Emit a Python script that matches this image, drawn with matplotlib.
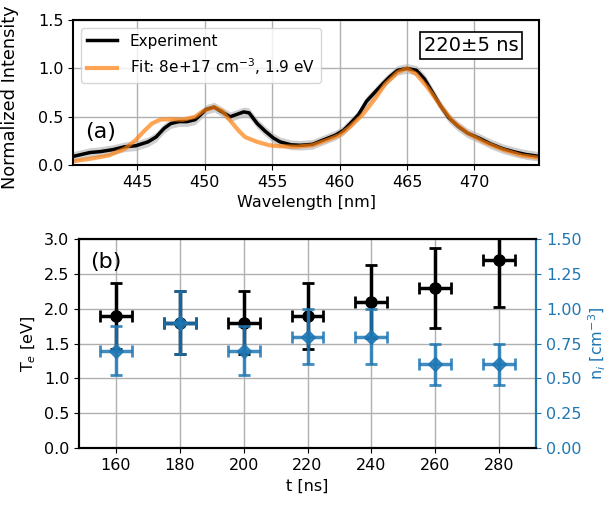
import matplotlib.pyplot as plt
import numpy as np

# spectrum
wl_exp = [440.26, 441.5, 442.3, 443.2, 444.1, 444.9, 445.8, 446.4, 447.0, 447.5, 448.1, 448.7,
          449.3, 449.7, 450.1, 450.7, 451.3, 451.9, 452.3, 452.9, 453.3, 453.9, 454.5, 455.1,
          455.6, 456.4, 457.1, 458.0, 458.8, 459.7, 460.3, 460.8, 461.4, 462.0, 462.6, 463.2,
          463.7, 464.3, 465.0, 465.7, 466.3, 466.9, 467.5, 468.1, 468.8, 469.5, 470.4, 471.2,
          472.1, 473.0, 473.8, 474.8]
int_exp = [0.09, 0.13, 0.14, 0.16, 0.19, 0.20, 0.24, 0.29, 0.38, 0.43, 0.45, 0.45,
           0.47, 0.52, 0.575, 0.60, 0.55, 0.50, 0.52, 0.55, 0.54, 0.43, 0.35, 0.28,
           0.24, 0.21, 0.205, 0.215, 0.26, 0.31, 0.36, 0.43, 0.52, 0.66, 0.75, 0.84,
           0.91, 0.98, 1.00, 0.98, 0.89, 0.75, 0.61, 0.49, 0.40, 0.33, 0.275, 0.22,
           0.17, 0.135, 0.11, 0.09]

wl_fit = [440.26, 441.5, 442.9, 444.1, 444.9, 445.5, 446.1, 446.7, 447.5, 448.4, 449.3, 449.9,
          450.7, 451.3, 451.9, 452.5, 453.0, 453.9, 454.8, 455.6, 456.8, 458.0, 459.1, 460.0,
          460.8, 461.7, 462.6, 463.4, 464.3, 465.0, 465.7, 466.6, 467.5, 468.4, 469.5, 470.7,
          472.1, 473.5, 474.8]
int_fit = [0.04, 0.065, 0.10, 0.17, 0.26, 0.35, 0.43, 0.47, 0.475, 0.47, 0.50, 0.56,
           0.60, 0.56, 0.46, 0.36, 0.29, 0.24, 0.205, 0.195, 0.19, 0.205, 0.26, 0.31,
           0.40, 0.52, 0.68, 0.84, 0.96, 1.00, 0.94, 0.79, 0.61, 0.45, 0.33, 0.24,
           0.16, 0.10, 0.075]

# time series
t = [160, 180, 200, 220, 240, 260, 280]
t_err = [5, 5, 5, 5, 5, 5, 5]
Te = [1.9, 1.8, 1.8, 1.9, 2.1, 2.3, 2.7]
Te_err = [0.475, 0.45, 0.45, 0.475, 0.525, 0.575, 0.675]
ni = [0.70, 0.90, 0.70, 0.80, 0.80, 0.60, 0.60]
ni_err = [0.175, 0.225, 0.175, 0.20, 0.20, 0.15, 0.15]

plt.rcParams['font.size'] = 11.5
plt.rcParams['axes.linewidth'] = 1.5

fig = plt.figure(figsize=(6.11, 5.08), dpi=100)

# (a) spectrum
ax1 = fig.add_axes([0.1195, 0.675, 0.763, 0.2855])
wl_exp = np.array(wl_exp)
int_exp = np.array(int_exp)
ax1.fill_between(wl_exp, int_exp - 0.05, int_exp + 0.05, color='#a0a0a0', alpha=0.5, lw=0)
ax1.plot(wl_exp, int_exp, color='black', lw=2.5, label='Experiment')
ax1.plot(wl_fit, int_fit, color='tab:orange', lw=3, alpha=0.7,
         label='Fit: 8e+17 cm$^{-3}$, 1.9 eV')
ax1.set_xlim(440.25, 474.8)
ax1.set_ylim(0, 1.5)
ax1.set_xticks([445, 450, 455, 460, 465, 470])
ax1.set_yticks([0.0, 0.5, 1.0, 1.5])
ax1.grid(True, color='#b0b0b0', lw=1)
ax1.set_xlabel('Wavelength [nm]')
ax1.set_ylabel('Normalized Intensity', fontsize=12.8)
ax1.yaxis.set_label_coords(-0.115, 0.47)
ax1.legend(loc='upper left', fontsize=11)
ax1.text(0.025, 0.19, '(a)', transform=ax1.transAxes, fontsize=16)
ax1.text(0.955, 0.825, '220±5 ns', transform=ax1.transAxes, fontsize=14, ha='right', va='center',
         bbox=dict(boxstyle='square,pad=0.2', fc='white', ec='black', lw=1.2))

# (b) Te and ni vs time
ax2 = fig.add_axes([0.1293, 0.118, 0.748, 0.4115])
ax2.errorbar(t, Te, yerr=Te_err, xerr=t_err, fmt='o', color='black', ms=8,
             elinewidth=2.5, capsize=4, capthick=2)
ax2.set_ylim(0, 3.0)
ax2.set_ylabel('T$_e$ [eV]')
ax2.set_xlabel('t [ns]')
ax2.set_xticks(t)
ax2.grid(True, color='#b0b0b0', lw=1)
ax2.text(0.025, 0.86, '(b)', transform=ax2.transAxes, fontsize=16)

ax3 = ax2.twinx()
ax3.errorbar(t, ni, yerr=ni_err, xerr=t_err, fmt='D', color='tab:blue', ms=7,
             elinewidth=2.5, capsize=4, capthick=2, alpha=0.85)
ax3.set_ylim(0, 1.5)
ax3.set_yticks([0, 0.25, 0.5, 0.75, 1.0, 1.25, 1.5])
ax3.set_ylabel('n$_i$ [cm$^{-3}$]', color='tab:blue')
ax3.tick_params(axis='y', colors='tab:blue')
ax3.spines['right'].set_color('tab:blue')

plt.savefig('out.png')
